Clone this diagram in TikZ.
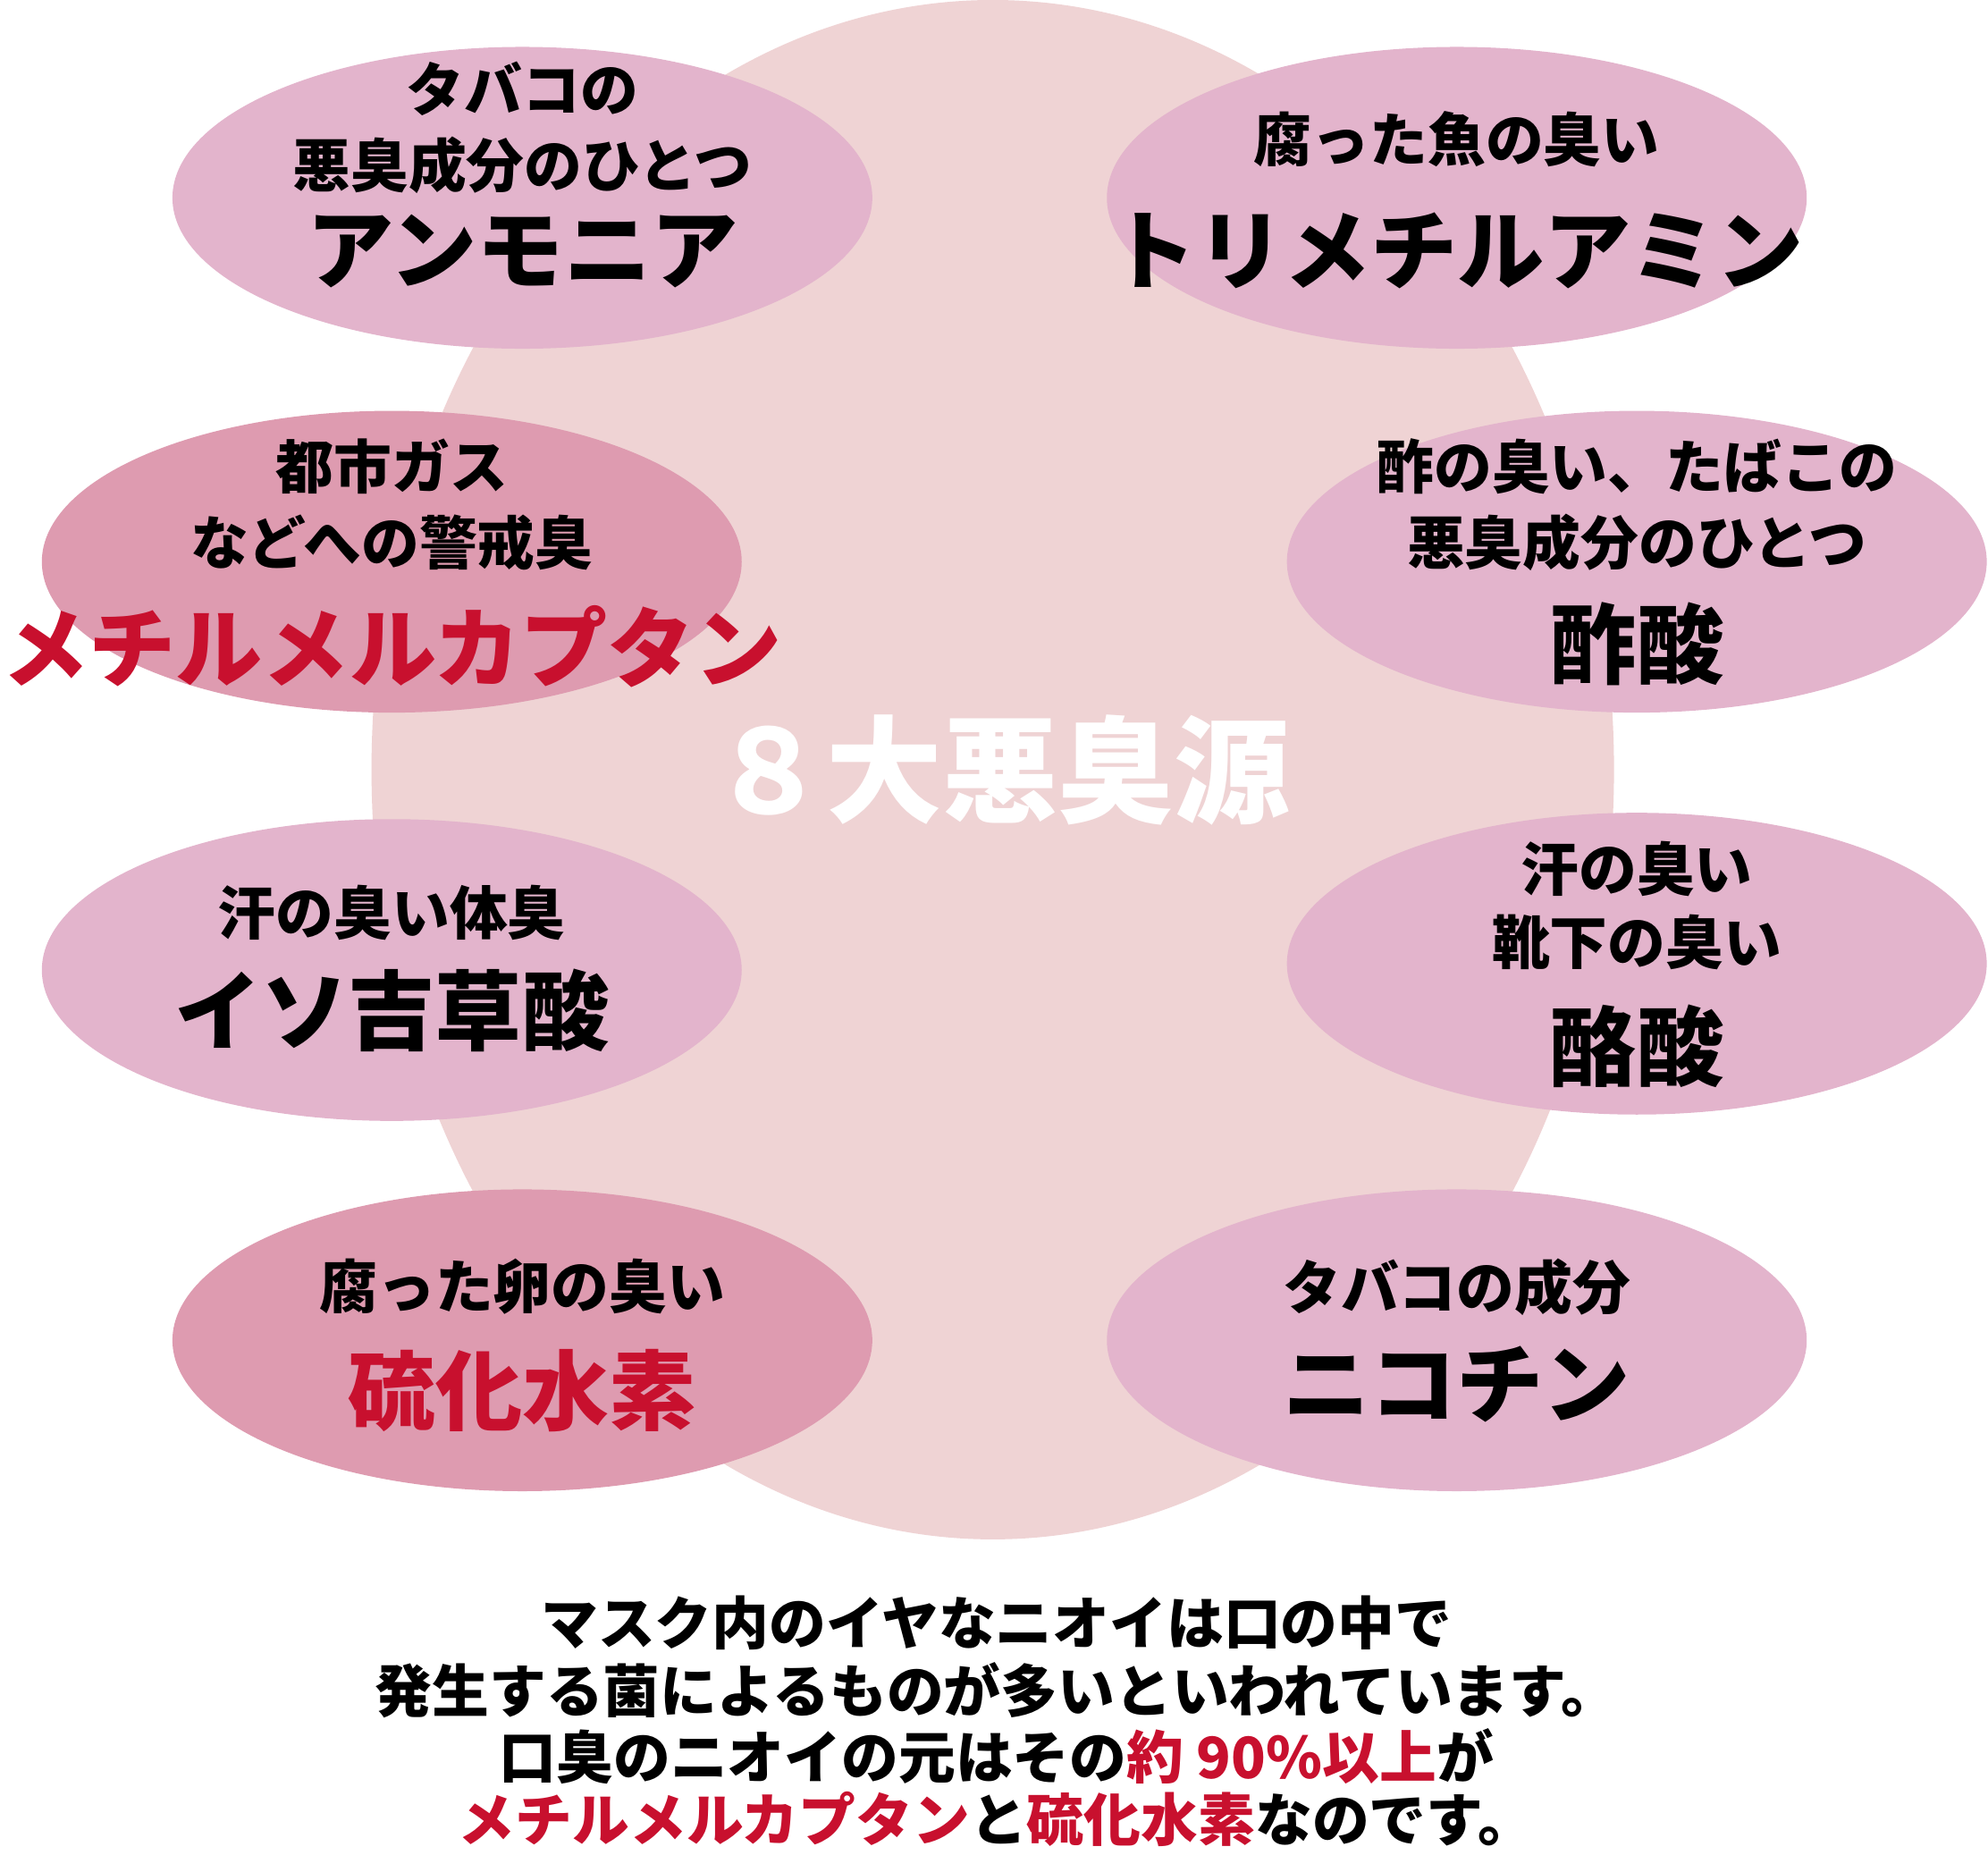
\documentclass[tikz,border=0pt]{standalone}
\usepackage{fontspec}
\setmainfont{Noto Sans CJK JP}
\usetikzlibrary{positioning, shapes.geometric}
\definecolor{bgpink}{HTML}{EFD3D4}
\definecolor{oval}{HTML}{E3B4CC}
\definecolor{ovaldark}{HTML}{DE9BB0}
\definecolor{alert}{HTML}{C8102E}
\tikzset{
    odor/.style={ellipse, fill=oval, minimum width=5.52cm, minimum height=2.38cm}, % each odour oval
    hot/.style={odor, fill=ovaldark}, % the two main ones
    small/.style={font=\bfseries\fontsize{13}{13}\selectfont},
    big/.style={font=\bfseries\fontsize{19.5}{20}\selectfont},
    note/.style={font=\bfseries\fontsize{12.8}{13}\selectfont},
}
\begin{document}
\begin{tikzpicture}
\useasboundingbox (0,0) rectangle (15.68,-14.76);
\fill[bgpink] (7.83,-6.07) ellipse [x radius=4.9, y radius=6.07];
% ovals
\node[odor] (amm) at (4.12,-1.56) {};
\node[odor] (tri) at (11.49,-1.56) {};
\node[hot] (mer) at (3.09,-4.43) {};
\node[odor] (ace) at (12.91,-4.43) {};
\node[odor] (iso) at (3.09,-7.65) {};
\node[odor] (but) at (12.91,-7.60) {};
\node[hot] (hs) at (4.12,-10.57) {};
\node[odor] (nic) at (11.49,-10.57) {};
% texts
\node[small] (amm1) at (4.12,-0.70) {タバコの};
\node[small] (amm2) at (4.12,-1.30) {悪臭成分のひとつ};
\node[big] (amm3) at (4.12,-1.98) {アンモニア};
\node[small] (tri1) at (11.49,-1.10) {腐った魚の臭い};
\node[big] (tri2) at (11.49,-1.98) {トリメチルアミン};
\node[small] (mer1) at (3.09,-3.68) {都市ガス};
\node[small] (mer2) at (3.09,-4.28) {などへの警戒臭};
\node[big, text=alert] (mer3) at (3.09,-5.10) {メチルメルカプタン};
\node[small] (ace1) at (12.91,-3.68) {酢の臭い、たばこの};
\node[small] (ace2) at (12.91,-4.28) {悪臭成分のひとつ};
\node[big] (ace3) at (12.91,-5.08) {酢酸};
\node[small] (iso1) at (3.09,-7.20) {汗の臭い体臭};
\node[big] (iso2) at (3.09,-7.97) {イソ吉草酸};
\node[small] (but1) at (12.91,-6.85) {汗の臭い};
\node[small] (but2) at (12.91,-7.43) {靴下の臭い};
\node[big] (but3) at (12.91,-8.25) {酪酸};
\node[small] (hs1) at (4.12,-10.15) {腐った卵の臭い};
\node[big, text=alert] (hs2) at (4.12,-10.97) {硫化水素};
\node[small] (nic1) at (11.49,-10.15) {タバコの成分};
\node[big] (nic2) at (11.49,-10.92) {ニコチン};
\node[font=\bfseries\fontsize{26}{26}\selectfont, text=white] (title) at (7.89,-6.07) {８大悪臭源};
% bottom note
\node[note] (n1) at (7.86,-12.80) {マスク内のイヤなニオイは口の中で};
\node[note] (n2) at (7.86,-13.33) {発生する菌によるものが多いといわれています。};
\node[note] (n3) at (7.86,-13.85) {口臭のニオイの元はその\textcolor{alert}{約 90\%以上}が};
\node[note] (n4) at (7.86,-14.35) {\textcolor{alert}{メチルメルカプタン}と\textcolor{alert}{硫化水素}なのです。};
\end{tikzpicture}
\end{document}
